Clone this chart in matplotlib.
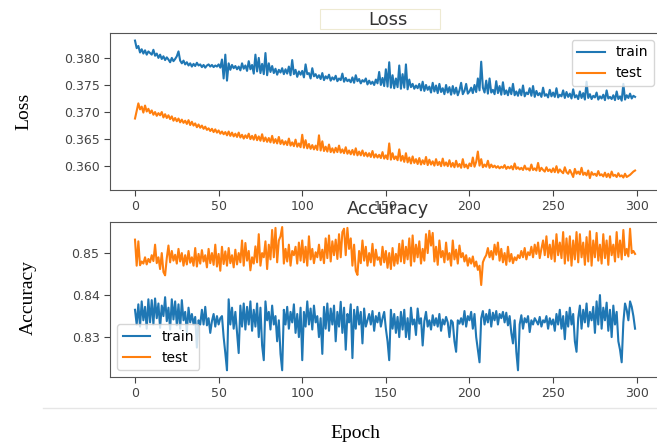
import numpy as np
from matplotlib import pyplot as plt
from matplotlib.patches import Rectangle
from matplotlib.lines import Line2D

# values, one per epoch
train_loss = [
    0.3832, 0.3818, 0.3822, 0.3810, 0.3816, 0.3808, 0.3814, 0.3806, 0.3812, 0.3809,
    0.3806, 0.3815, 0.3804, 0.3808, 0.3800, 0.3806, 0.3798, 0.3803, 0.3796, 0.3801,
    0.3797, 0.3792, 0.3800, 0.3794, 0.3798, 0.3803, 0.3812, 0.3795, 0.3790, 0.3795,
    0.3788, 0.3792, 0.3786, 0.3790, 0.3784, 0.3789, 0.3785, 0.3791, 0.3786, 0.3788,
    0.3783, 0.3787, 0.3782, 0.3786, 0.3788, 0.3784, 0.3787, 0.3783, 0.3786, 0.3784,
    0.3788, 0.3782, 0.3797, 0.3762, 0.3806, 0.3758, 0.3790, 0.3778, 0.3787, 0.3781,
    0.3785, 0.3779, 0.3784, 0.3777, 0.3790, 0.3780, 0.3786, 0.3776, 0.3794, 0.3779,
    0.3787, 0.3771, 0.3806, 0.3775, 0.3800, 0.3772, 0.3789, 0.3770, 0.3809, 0.3768,
    0.3790, 0.3774, 0.3785, 0.3772, 0.3780, 0.3769, 0.3778, 0.3773, 0.3781, 0.3770,
    0.3779, 0.3771, 0.3784, 0.3768, 0.3796, 0.3770, 0.3778, 0.3765, 0.3775, 0.3769,
    0.3776, 0.3764, 0.3788, 0.3770, 0.3772, 0.3762, 0.3781, 0.3766, 0.3770, 0.3763,
    0.3768, 0.3761, 0.3772, 0.3759, 0.3766, 0.3762, 0.3769, 0.3758, 0.3764, 0.3760,
    0.3767, 0.3757, 0.3762, 0.3759, 0.3771, 0.3756, 0.3763, 0.3757, 0.3760, 0.3755,
    0.3764, 0.3754, 0.3768, 0.3757, 0.3761, 0.3753, 0.3759, 0.3756, 0.3762, 0.3751,
    0.3758, 0.3752, 0.3756, 0.3750, 0.3760, 0.3753, 0.3774, 0.3750, 0.3763, 0.3748,
    0.3779, 0.3747, 0.3792, 0.3745, 0.3768, 0.3744, 0.3762, 0.3746, 0.3786, 0.3743,
    0.3770, 0.3745, 0.3788, 0.3742, 0.3760, 0.3746, 0.3752, 0.3743, 0.3749, 0.3744,
    0.3752, 0.3740, 0.3756, 0.3739, 0.3750, 0.3741, 0.3747, 0.3736, 0.3754, 0.3738,
    0.3749, 0.3735, 0.3752, 0.3737, 0.3744, 0.3733, 0.3750, 0.3736, 0.3746, 0.3732,
    0.3748, 0.3734, 0.3745, 0.3731, 0.3740, 0.3754, 0.3733, 0.3739, 0.3752, 0.3734,
    0.3738, 0.3745, 0.3735, 0.3750, 0.3737, 0.3762, 0.3740, 0.3793, 0.3745, 0.3736,
    0.3758, 0.3734, 0.3762, 0.3736, 0.3741, 0.3733, 0.3757, 0.3735, 0.3748, 0.3732,
    0.3755, 0.3733, 0.3740, 0.3731, 0.3745, 0.3733, 0.3752, 0.3731, 0.3738, 0.3730,
    0.3742, 0.3731, 0.3749, 0.3729, 0.3736, 0.3733, 0.3744, 0.3730, 0.3748, 0.3728,
    0.3739, 0.3731, 0.3735, 0.3728, 0.3745, 0.3730, 0.3733, 0.3727, 0.3741, 0.3729,
    0.3736, 0.3728, 0.3744, 0.3727, 0.3732, 0.3729, 0.3740, 0.3726, 0.3737, 0.3728,
    0.3734, 0.3725, 0.3742, 0.3727, 0.3731, 0.3724, 0.3738, 0.3726, 0.3735, 0.3723,
    0.3756, 0.3726, 0.3733, 0.3724, 0.3730, 0.3727, 0.3736, 0.3723, 0.3729, 0.3725,
    0.3732, 0.3722, 0.3740, 0.3725, 0.3728, 0.3724, 0.3731, 0.3722, 0.3738, 0.3724,
    0.3729, 0.3721, 0.3752, 0.3723, 0.3731, 0.3726, 0.3734, 0.3725, 0.3730, 0.3728,
]

test_loss = [
    0.3688, 0.3702, 0.3716, 0.3705, 0.3710, 0.3699, 0.3712, 0.3701, 0.3706, 0.3698,
    0.3703, 0.3695, 0.3700, 0.3693, 0.3698, 0.3694, 0.3700, 0.3690, 0.3696, 0.3689,
    0.3694, 0.3687, 0.3692, 0.3684, 0.3689, 0.3683, 0.3688, 0.3681, 0.3686, 0.3680,
    0.3684, 0.3678, 0.3685, 0.3676, 0.3682, 0.3675, 0.3679, 0.3672, 0.3677, 0.3671,
    0.3675, 0.3669, 0.3673, 0.3667, 0.3670, 0.3665, 0.3669, 0.3663, 0.3668, 0.3662,
    0.3666, 0.3660, 0.3664, 0.3659, 0.3663, 0.3657, 0.3664, 0.3656, 0.3662, 0.3655,
    0.3660, 0.3654, 0.3662, 0.3653, 0.3658, 0.3651, 0.3657, 0.3652, 0.3660, 0.3650,
    0.3656, 0.3649, 0.3658, 0.3648, 0.3655, 0.3647, 0.3659, 0.3646, 0.3653, 0.3645,
    0.3652, 0.3644, 0.3656, 0.3643, 0.3650, 0.3642, 0.3654, 0.3641, 0.3648, 0.3640,
    0.3646, 0.3639, 0.3651, 0.3638, 0.3644, 0.3637, 0.3649, 0.3636, 0.3642, 0.3635,
    0.3658, 0.3634, 0.3648, 0.3633, 0.3641, 0.3632, 0.3639, 0.3631, 0.3638, 0.3630,
    0.3657, 0.3629, 0.3646, 0.3628, 0.3636, 0.3627, 0.3640, 0.3626, 0.3633, 0.3625,
    0.3634, 0.3626, 0.3638, 0.3625, 0.3631, 0.3624, 0.3635, 0.3623, 0.3629, 0.3622,
    0.3630, 0.3621, 0.3633, 0.3620, 0.3627, 0.3620, 0.3629, 0.3619, 0.3625, 0.3618,
    0.3624, 0.3617, 0.3628, 0.3616, 0.3622, 0.3616, 0.3621, 0.3615, 0.3626, 0.3614,
    0.3620, 0.3613, 0.3642, 0.3612, 0.3624, 0.3613, 0.3618, 0.3611, 0.3631, 0.3610,
    0.3619, 0.3608, 0.3624, 0.3607, 0.3616, 0.3605, 0.3618, 0.3606, 0.3613, 0.3604,
    0.3615, 0.3603, 0.3611, 0.3604, 0.3617, 0.3602, 0.3612, 0.3603, 0.3609, 0.3601,
    0.3613, 0.3602, 0.3608, 0.3600, 0.3614, 0.3601, 0.3607, 0.3600, 0.3611, 0.3599,
    0.3606, 0.3598, 0.3610, 0.3599, 0.3604, 0.3597, 0.3613, 0.3598, 0.3603, 0.3596,
    0.3605, 0.3600, 0.3616, 0.3599, 0.3608, 0.3627, 0.3601, 0.3613, 0.3598, 0.3603,
    0.3599, 0.3610, 0.3597, 0.3603, 0.3598, 0.3601, 0.3597, 0.3600, 0.3596, 0.3599,
    0.3597, 0.3602, 0.3595, 0.3599, 0.3596, 0.3600, 0.3594, 0.3605, 0.3595, 0.3598,
    0.3594, 0.3597, 0.3593, 0.3601, 0.3594, 0.3596, 0.3592, 0.3603, 0.3593, 0.3596,
    0.3592, 0.3606, 0.3591, 0.3597, 0.3593, 0.3590, 0.3598, 0.3591, 0.3594, 0.3589,
    0.3596, 0.3589, 0.3600, 0.3588, 0.3594, 0.3590, 0.3587, 0.3598, 0.3589, 0.3586,
    0.3593, 0.3587, 0.3580, 0.3595, 0.3586, 0.3590, 0.3585, 0.3597, 0.3584, 0.3588,
    0.3583, 0.3592, 0.3578, 0.3589, 0.3584, 0.3586, 0.3582, 0.3591, 0.3583, 0.3585,
    0.3581, 0.3588, 0.3580, 0.3586, 0.3579, 0.3590, 0.3582, 0.3584, 0.3580, 0.3587,
    0.3581, 0.3583, 0.3579, 0.3586, 0.3580, 0.3582, 0.3584, 0.3587, 0.3590, 0.3592,
]

train_acc = [
    0.8365, 0.8330, 0.8378, 0.8325, 0.8385, 0.8340, 0.8372, 0.8320, 0.8390, 0.8335,
    0.8388, 0.8330, 0.8392, 0.8345, 0.8380, 0.8322, 0.8375, 0.8350, 0.8395, 0.8338,
    0.8370, 0.8318, 0.8390, 0.8342, 0.8385, 0.8328, 0.8378, 0.8320, 0.8388, 0.8340,
    0.8360, 0.8312, 0.8370, 0.8335, 0.8355, 0.8330, 0.8348, 0.8275, 0.8340, 0.8330,
    0.8365, 0.8330, 0.8372, 0.8328, 0.8345, 0.8310, 0.8338, 0.8355, 0.8325, 0.8350,
    0.8330, 0.8345, 0.8350, 0.8300, 0.8262, 0.8221, 0.8390, 0.8330, 0.8370, 0.8320,
    0.8360, 0.8310, 0.8262, 0.8375, 0.8325, 0.8380, 0.8318, 0.8372, 0.8330, 0.8385,
    0.8315, 0.8365, 0.8325, 0.8380, 0.8300, 0.8370, 0.8280, 0.8245, 0.8385, 0.8340,
    0.8360, 0.8318, 0.8375, 0.8330, 0.8350, 0.8290, 0.8340, 0.8260, 0.8221, 0.8365,
    0.8330, 0.8372, 0.8320, 0.8360, 0.8335, 0.8378, 0.8310, 0.8355, 0.8300, 0.8370,
    0.8245, 0.8360, 0.8325, 0.8385, 0.8330, 0.8368, 0.8318, 0.8375, 0.8335, 0.8350,
    0.8300, 0.8345, 0.8260, 0.8372, 0.8320, 0.8380, 0.8315, 0.8368, 0.8330, 0.8375,
    0.8290, 0.8360, 0.8325, 0.8384, 0.8310, 0.8370, 0.8270, 0.8355, 0.8335, 0.8378,
    0.8250, 0.8365, 0.8320, 0.8372, 0.8330, 0.8360, 0.8285, 0.8368, 0.8325, 0.8340,
    0.8355, 0.8330, 0.8362, 0.8315, 0.8350, 0.8335, 0.8358, 0.8325, 0.8345, 0.8360,
    0.8320, 0.8290, 0.8245, 0.8365, 0.8320, 0.8355, 0.8310, 0.8348, 0.8300, 0.8360,
    0.8318, 0.8365, 0.8300, 0.8345, 0.8295, 0.8370, 0.8330, 0.8342, 0.8305, 0.8368,
    0.8332, 0.8345, 0.8280, 0.8338, 0.8360, 0.8325, 0.8340, 0.8318, 0.8352, 0.8328,
    0.8345, 0.8325, 0.8355, 0.8315, 0.8342, 0.8330, 0.8348, 0.8335, 0.8300, 0.8340,
    0.8335, 0.8290, 0.8265, 0.8340, 0.8332, 0.8345, 0.8330, 0.8362, 0.8325, 0.8350,
    0.8340, 0.8360, 0.8320, 0.8355, 0.8300, 0.8270, 0.8240, 0.8345, 0.8362, 0.8330,
    0.8355, 0.8335, 0.8365, 0.8325, 0.8358, 0.8340, 0.8362, 0.8330, 0.8355, 0.8345,
    0.8360, 0.8335, 0.8358, 0.8328, 0.8350, 0.8310, 0.8285, 0.8340, 0.8265, 0.8221,
    0.8330, 0.8352, 0.8320, 0.8345, 0.8335, 0.8350, 0.8312, 0.8340, 0.8330, 0.8345,
    0.8338, 0.8330, 0.8348, 0.8325, 0.8340, 0.8335, 0.8350, 0.8320, 0.8345, 0.8330,
    0.8342, 0.8315, 0.8355, 0.8330, 0.8365, 0.8320, 0.8350, 0.8295, 0.8360, 0.8325,
    0.8370, 0.8330, 0.8355, 0.8290, 0.8265, 0.8345, 0.8375, 0.8320, 0.8365, 0.8335,
    0.8380, 0.8325, 0.8360, 0.8340, 0.8372, 0.8310, 0.8385, 0.8330, 0.8400, 0.8320,
    0.8370, 0.8340, 0.8382, 0.8315, 0.8365, 0.8300, 0.8375, 0.8330, 0.8360, 0.8290,
    0.8270, 0.8240, 0.8335, 0.8380, 0.8365, 0.8340, 0.8385, 0.8372, 0.8350, 0.8320,
]

test_acc = [
    0.8532, 0.8470, 0.8528, 0.8471, 0.8480, 0.8475, 0.8490, 0.8473, 0.8486, 0.8478,
    0.8495, 0.8481, 0.8520, 0.8476, 0.8490, 0.8462, 0.8500, 0.8455, 0.8447, 0.8488,
    0.8518, 0.8478, 0.8505, 0.8482, 0.8496, 0.8475, 0.8510, 0.8480, 0.8500, 0.8470,
    0.8495, 0.8473, 0.8505, 0.8477, 0.8490, 0.8470, 0.8512, 0.8468, 0.8498, 0.8475,
    0.8507, 0.8480, 0.8495, 0.8466, 0.8510, 0.8476, 0.8500, 0.8472, 0.8520, 0.8468,
    0.8498, 0.8458, 0.8515, 0.8474, 0.8504, 0.8470, 0.8512, 0.8476, 0.8495, 0.8466,
    0.8508, 0.8473, 0.8500, 0.8478, 0.8530, 0.8470, 0.8524, 0.8482, 0.8505, 0.8459,
    0.8490, 0.8475, 0.8516, 0.8478, 0.8545, 0.8470, 0.8500, 0.8490, 0.8528, 0.8462,
    0.8520, 0.8485, 0.8555, 0.8490, 0.8560, 0.8478, 0.8530, 0.8540, 0.8562, 0.8475,
    0.8510, 0.8480, 0.8520, 0.8470, 0.8505, 0.8495, 0.8515, 0.8475, 0.8525, 0.8482,
    0.8530, 0.8478, 0.8515, 0.8470, 0.8540, 0.8485, 0.8510, 0.8476, 0.8502, 0.8490,
    0.8520, 0.8483, 0.8508, 0.8476, 0.8535, 0.8488, 0.8542, 0.8480, 0.8528, 0.8495,
    0.8532, 0.8486, 0.8545, 0.8490, 0.8550, 0.8558, 0.8495, 0.8560, 0.8510, 0.8535,
    0.8470, 0.8520, 0.8458, 0.8448, 0.8505, 0.8476, 0.8530, 0.8482, 0.8515, 0.8470,
    0.8500, 0.8478, 0.8522, 0.8470, 0.8508, 0.8484, 0.8490, 0.8472, 0.8515, 0.8478,
    0.8505, 0.8465, 0.8500, 0.8462, 0.8512, 0.8470, 0.8498, 0.8475, 0.8522, 0.8480,
    0.8530, 0.8476, 0.8515, 0.8485, 0.8535, 0.8470, 0.8542, 0.8480, 0.8520, 0.8490,
    0.8528, 0.8475, 0.8510, 0.8482, 0.8545, 0.8500, 0.8553, 0.8518, 0.8548, 0.8480,
    0.8515, 0.8472, 0.8530, 0.8490, 0.8505, 0.8478, 0.8525, 0.8484, 0.8500, 0.8470,
    0.8530, 0.8485, 0.8508, 0.8475, 0.8518, 0.8490, 0.8500, 0.8480, 0.8495, 0.8470,
    0.8488, 0.8475, 0.8492, 0.8468, 0.8480, 0.8460, 0.8470, 0.8424, 0.8478, 0.8488,
    0.8495, 0.8512, 0.8490, 0.8505, 0.8485, 0.8520, 0.8496, 0.8525, 0.8482, 0.8510,
    0.8478, 0.8500, 0.8472, 0.8515, 0.8480, 0.8498, 0.8476, 0.8490, 0.8483, 0.8495,
    0.8488, 0.8505, 0.8490, 0.8512, 0.8485, 0.8502, 0.8495, 0.8515, 0.8490, 0.8520,
    0.8498, 0.8525, 0.8488, 0.8510, 0.8530, 0.8495, 0.8540, 0.8490, 0.8520, 0.8486,
    0.8530, 0.8480, 0.8545, 0.8495, 0.8525, 0.8488, 0.8550, 0.8475, 0.8535, 0.8482,
    0.8540, 0.8470, 0.8530, 0.8485, 0.8550, 0.8478, 0.8545, 0.8490, 0.8525, 0.8472,
    0.8538, 0.8480, 0.8552, 0.8470, 0.8530, 0.8490, 0.8548, 0.8482, 0.8520, 0.8475,
    0.8545, 0.8488, 0.8530, 0.8472, 0.8540, 0.8495, 0.8520, 0.8480, 0.8550, 0.8490,
    0.8530, 0.8485, 0.8555, 0.8495, 0.8510, 0.8492, 0.8558, 0.8500, 0.8505, 0.8498,
]

epochs = np.arange(len(train_loss))
loss_ticks = [0.360, 0.365, 0.370, 0.375, 0.380]
acc_ticks = [0.83, 0.84, 0.85]
x_ticks = [0, 50, 100, 150, 200, 250, 300]

W, H = 657, 444
fig = plt.figure(figsize=(W / 100, H / 100), dpi=100)

serif = ['Liberation Serif', 'DejaVu Serif']
tick_col = '#444444'
spine_col = '#555555'


def px_axes(left, top, right, bottom):
    return fig.add_axes([left / W, 1 - bottom / H, (right - left) / W, (bottom - top) / H])


# right edge sits just past the figure, as in the cropped reference
ax1 = px_axes(110, 33, 665, 190)
ax2 = px_axes(110, 222, 665, 377)

ax1.plot(epochs, train_loss, color='#1f77b4', lw=1.5, label='train')
ax1.plot(epochs, test_loss, color='#ff7f0e', lw=1.5, label='test')
ax1.set_ylim(0.3556, 0.3846)
ax1.set_yticks(loss_ticks)
ax1.set_yticklabels(['%.3f' % v for v in loss_ticks])
ax1.set_title('Loss', fontsize=13, color='#333333')
ax1.legend(loc='upper right', fontsize=10, bbox_to_anchor=(0.993, 1.0))

ax2.plot(epochs, train_acc, color='#1f77b4', lw=1.5, label='train')
ax2.plot(epochs, test_acc, color='#ff7f0e', lw=1.5, label='test')
ax2.set_ylim(0.8205, 0.8574)
ax2.set_yticks(acc_ticks)
ax2.set_yticklabels(['%.2f' % v for v in acc_ticks])
ax2.set_title('Accuracy', fontsize=13, color='#333333')
ax2.legend(loc='lower left', fontsize=10)

for ax in (ax1, ax2):
    ax.set_xticks(x_ticks)
    ax.set_xlim(-14.95, 316.9)
    ax.tick_params(labelsize=9, colors=tick_col, length=4)
    for s in ax.spines.values():
        s.set_color(spine_col)

fig.text(24 / W, 1 - 111 / H, 'Loss', rotation=90, ha='center', va='center',
         family=serif, fontsize=14)
fig.text(28 / W, 1 - 297 / H, 'Accuracy', rotation=90, ha='center', va='center',
         family=serif, fontsize=14)
fig.text(355 / W, 1 - 433 / H, 'Epoch', ha='center', va='center',
         family=serif, fontsize=14)

# faint frame round the top title and thin rule above the x label
fig.patches.append(Rectangle((320 / W, 1 - 29 / H), 120 / W, 20 / H,
                             transform=fig.transFigure, fill=False,
                             edgecolor='#eeead2', lw=0.8))
fig.lines.append(Line2D([43 / W, 1.0], [1 - 408 / H, 1 - 408 / H],
                        transform=fig.transFigure, color='#e6e6e6', lw=1))

fig.savefig('out.png', dpi=100)
